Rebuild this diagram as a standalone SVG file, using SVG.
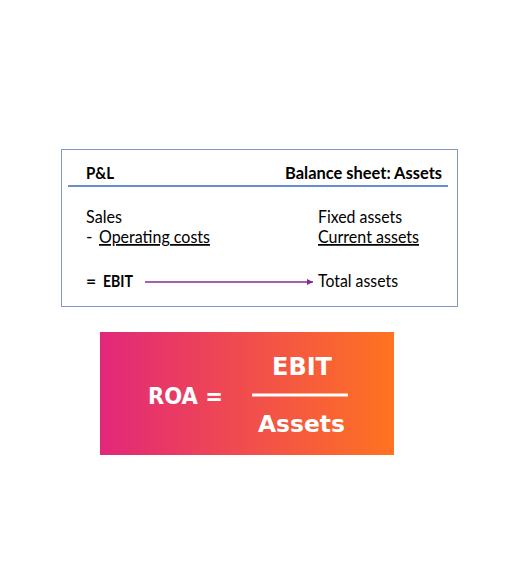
<svg xmlns="http://www.w3.org/2000/svg" width="510" height="578" viewBox="0 0 510 578">
<style>
.t{font-family:Lato,"Open Sans","Liberation Sans",sans-serif;font-size:17.5px;fill:#000}
.b{font-weight:bold}
.u{text-decoration:underline}
.w{font-family:"DejaVu Sans","Liberation Sans",sans-serif;font-weight:bold;fill:#fff}
</style>
<defs>
<linearGradient id="g" x1="0" y1="0" x2="1" y2="0">
<stop offset="0" stop-color="#e2277a"/>
<stop offset="1" stop-color="#ff7320"/>
</linearGradient>
<marker id="ah" viewBox="0 0 10 10" refX="10" refY="5" markerWidth="6" markerHeight="6" markerUnits="userSpaceOnUse" orient="auto">
<path d="M0,0 L10,5 L0,10 z" fill="#862a9b"/>
</marker>
</defs>
<rect width="510" height="578" fill="#fff"/>
<g id="table">
<rect x="61.5" y="149.5" width="396" height="157" fill="#fff" stroke="#8597c8" stroke-width="1"/>
<line x1="68" y1="186" x2="448" y2="186" stroke="#3366c4" stroke-width="1.5"/>
<text class="t b" x="86" y="179" textLength="28" lengthAdjust="spacingAndGlyphs">P&amp;L</text>
<text class="t b" x="285" y="179" textLength="157" lengthAdjust="spacingAndGlyphs">Balance sheet: Assets</text>
</g>
<g id="pl">
<text class="t" x="86" y="223" textLength="36" lengthAdjust="spacingAndGlyphs">Sales</text>
<text class="t" x="86" y="243">-</text>
<text class="t u" x="99" y="243" textLength="111" lengthAdjust="spacingAndGlyphs">Operating costs</text>
<text class="t b" x="86" y="287">=</text>
<text class="t b" x="103" y="287" textLength="30" lengthAdjust="spacingAndGlyphs">EBIT</text>
</g>
<g id="assets">
<text class="t" x="318" y="223" textLength="84" lengthAdjust="spacingAndGlyphs">Fixed assets</text>
<text class="t u" x="318" y="243" textLength="101" lengthAdjust="spacingAndGlyphs">Current assets</text>
<text class="t" x="318" y="287" textLength="80" lengthAdjust="spacingAndGlyphs">Total assets</text>
</g>
<g id="connectors">
<line x1="145" y1="282" x2="313" y2="282" stroke="#862a9b" stroke-width="1.5" marker-end="url(#ah)"/>
</g>
<g id="roa">
<rect x="100" y="332" width="294" height="123" fill="url(#g)"/>
<text class="w" x="148" y="404" font-size="23.5" textLength="75" lengthAdjust="spacingAndGlyphs">ROA =</text>
<text class="w" x="272" y="374.5" font-size="24" textLength="60" lengthAdjust="spacingAndGlyphs">EBIT</text>
<rect x="252" y="393.5" width="96" height="3" fill="#fff"/>
<text class="w" x="258" y="432" font-size="23.5" textLength="87" lengthAdjust="spacingAndGlyphs">Assets</text>
</g>
</svg>
